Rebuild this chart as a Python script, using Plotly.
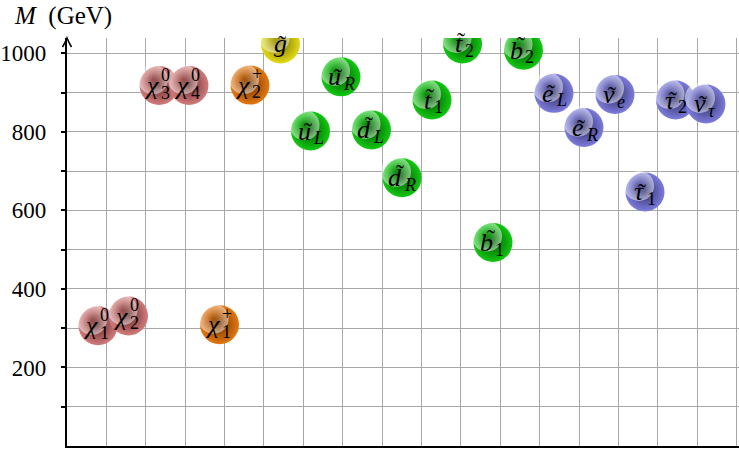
import plotly.graph_objects as go

# ---- data ----
labels_main = ["χ", "χ", "χ", "χ", "χ", "χ", "g", "u", "u", "d", "d",
               "t", "t", "b", "b", "e", "e", "ν", "τ", "τ", "ν"]
labels_tilde = [False] * 6 + [True] * 15
labels_sub = ["1", "2", "3", "4", "1", "2", "", "L", "R", "L", "R",
              "1", "2", "1", "2", "L", "R", "e", "1", "2", "τ"]
labels_sup = ["0", "0", "0", "0", "+", "+", "", "", "", "", "",
              "", "", "", "", "", "", "", "", "", ""]
x_pos = [0.787, 1.561, 2.336, 3.097, 3.872, 4.646, 5.420, 6.182, 6.956, 7.730, 8.505,
         9.266, 10.041, 10.815, 11.589, 12.363, 13.125, 13.912, 14.674, 15.448, 16.222]
masses = [306, 331, 918, 918, 309, 919, 1024, 802, 940, 805, 683,
          881, 1024, 518, 1008, 898, 811, 895, 647, 881, 871]
groups = ["neutralino"] * 4 + ["chargino"] * 2 + ["gluino"] + ["squark"] * 8 + ["slepton"] * 6

y_tick_vals = [100, 200, 300, 400, 500, 600, 700, 800, 900, 1000]
y_tick_text = ["", "200", "", "400", "", "600", "", "800", "", "1000"]

# ---- styles ----
body = {"neutralino": "#d27c7c", "chargino": "#e47810", "gluino": "#e2da18",
        "squark": "#12c812", "slepton": "#7c7cdc"}
edge = {"neutralino": "#6a2a2a", "chargino": "#763600", "gluino": "#807600",
        "squark": "#005c00", "slepton": "#30306a"}

FONT = "Liberation Serif"
W, H = 739, 450
ML, MR, MT, MB = 67, 0, 38, 4
PW, PH = W - ML - MR, H - MT - MB
px_per_x = 39.39
px_per_y = 0.3927
x_max = PW / px_per_x
y_max = PH / px_per_y

BALL = 39
HL = 30
hl_dx = -6 / px_per_x
hl_dy = 6 / px_per_y

fig = go.Figure()
for i in range(len(x_pos)):
    g = groups[i]
    fig.add_trace(go.Scatter(
        x=[x_pos[i]], y=[masses[i]], mode="markers", hoverinfo="skip",
        marker=dict(size=BALL, color=body[g], line=dict(width=0),
                    gradient=dict(type="radial", color=edge[g])),
        showlegend=False))
    fig.add_trace(go.Scatter(
        x=[x_pos[i] + hl_dx], y=[masses[i] + hl_dy], mode="markers", hoverinfo="skip",
        marker=dict(size=HL, color="rgba(255,255,255,0.5)", line=dict(width=0),
                    gradient=dict(type="radial", color="rgba(255,255,255,0)")),
        showlegend=False))

tilde_dy = {"t": 3, "b": 5, "d": 5}
annotations = []
for i in range(len(x_pos)):
    has_idx = bool(labels_sub[i] or labels_sup[i])
    m = labels_main[i]
    annotations.append(dict(
        x=x_pos[i], y=masses[i], xref="x", yref="y", showarrow=False,
        text="<i>" + m + "</i>",
        font=dict(family=FONT, size=26, color="black"),
        xanchor="right" if has_idx else "center", yanchor="middle",
        xshift=2 if has_idx else 0, yshift=0))
    if labels_tilde[i]:
        annotations.append(dict(
            x=x_pos[i], y=masses[i], xref="x", yref="y", showarrow=False,
            text="˜", font=dict(family=FONT, size=24, color="black"),
            xanchor="center", yanchor="middle",
            xshift=(-3 if has_idx else 2) + (1 if m in tilde_dy else 0),
            yshift=tilde_dy.get(m, 0)))
    if labels_sub[i]:
        s = labels_sub[i]
        txt = s if s.isdigit() else "<i>" + s + "</i>"
        annotations.append(dict(
            x=x_pos[i], y=masses[i], xref="x", yref="y", showarrow=False,
            text=txt, font=dict(family=FONT, size=18, color="black"),
            xanchor="left", yanchor="middle", xshift=0, yshift=-7))
    if labels_sup[i]:
        annotations.append(dict(
            x=x_pos[i], y=masses[i], xref="x", yref="y", showarrow=False,
            text=labels_sup[i], font=dict(family=FONT, size=18, color="black"),
            xanchor="left", yanchor="middle", xshift=0, yshift=11))

annotations.append(dict(
    x=(12 - ML) / PW, y=(H - MB - 16) / PH,
    xref="paper", yref="paper", showarrow=False, xanchor="left", yanchor="middle",
    text="<i>M</i>  (GeV)", font=dict(family=FONT, size=25, color="black")))

# arrow head on the y axis (paper coordinates so it is not clipped)
ah_w = 4.5 / PW
ah_h = 9 / PH
shapes = [dict(type="path", xref="paper", yref="paper",
               path=f"M {-ah_w} {1 - ah_h} Q {-ah_w*0.3} {1 - ah_h*0.4} 0 1 "
                    f"Q {ah_w*0.3} {1 - ah_h*0.4} {ah_w} {1 - ah_h}",
               line=dict(color="black", width=1.6))]

fig.update_layout(
    width=W, height=H, margin=dict(l=ML, r=MR, t=MT, b=MB, autoexpand=False),
    plot_bgcolor="white", paper_bgcolor="white",
    font=dict(family=FONT),
    annotations=annotations, shapes=shapes,
    xaxis=dict(range=[0, x_max], dtick=1, tick0=0, showgrid=True, gridcolor="#a8a8a8",
               gridwidth=1, showticklabels=False, ticks="", zeroline=False,
               showline=True, linecolor="black", linewidth=2.2, fixedrange=True,
               automargin=False),
    yaxis=dict(range=[0, y_max], tickvals=y_tick_vals, ticktext=y_tick_text,
               showgrid=True, gridcolor="#a8a8a8", gridwidth=1,
               ticks="outside", ticklen=4, tickwidth=1.5, tickcolor="black",
               ticklabelstandoff=10,
               tickfont=dict(family=FONT, size=23, color="black"),
               zeroline=False, showline=True, linecolor="black", linewidth=2.2,
               fixedrange=True, automargin=False),
)

fig.write_html("out.html", config={"displayModeBar": False},
               post_script="document.body.style.margin='0';document.body.style.overflow='hidden';")
